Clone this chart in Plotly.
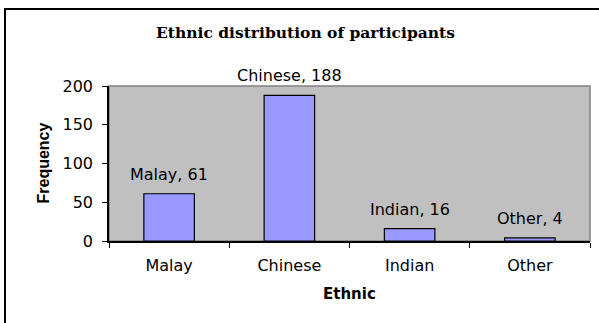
import plotly.graph_objects as go

categories = ["Malay", "Chinese", "Indian", "Other"]
frequency = [61, 188, 16, 4]
y_ticks = [0, 50, 100, 150, 200]

title_text = "Ethnic distribution of participants"
x_title = "Ethnic"
y_title = "Frequency"

W, H = 599, 323
ML, MR, MT, MB = 109, 9, 86, 82
PW = W - ML - MR
PH = H - MT - MB

def px_to_paper_x(px):
    return (px - ML) / PW

def px_to_paper_y(py):
    return (H - MB - py) / PH

fig = go.Figure()
fig.add_trace(go.Bar(
    x=categories,
    y=frequency,
    marker=dict(color="#9999FF", line=dict(color="black", width=1.2)),
    width=0.42,
    hoverinfo="x+y",
))

sans = "DejaVu Sans"
annotations = []
for c, v in zip(categories, frequency):
    annotations.append(dict(
        x=c, y=v, xref="x", yref="y", text=f"{c}, {v}",
        showarrow=False, yanchor="bottom", yshift=8,
        font=dict(family=sans, size=16, color="black"),
    ))

annotations.append(dict(
    x=px_to_paper_x(305), y=px_to_paper_y(32), xref="paper", yref="paper",
    text=f"<b>{title_text}</b>", showarrow=False, xanchor="center", yanchor="middle",
    font=dict(family="DejaVu Serif", size=15.5, color="black"),
))
annotations.append(dict(
    x=px_to_paper_x(43), y=0.5, xref="paper", yref="paper",
    text=f"<b>{y_title}</b>", showarrow=False, textangle=-90,
    xanchor="center", yanchor="middle",
    font=dict(family="Liberation Sans", size=16, color="black"),
))
annotations.append(dict(
    x=px_to_paper_x(349), y=px_to_paper_y(294), xref="paper", yref="paper",
    text=f"<b>{x_title}</b>", showarrow=False, xanchor="center", yanchor="middle",
    font=dict(family=sans, size=15, color="black"),
))

shapes = [
    dict(type="rect", xref="paper", yref="paper", x0=0, x1=1, y0=0, y1=1,
         line=dict(color="#808080", width=1.5), layer="below"),
    dict(type="rect", xref="paper", yref="paper",
         x0=px_to_paper_x(5), x1=px_to_paper_x(640),
         y0=px_to_paper_y(360), y1=px_to_paper_y(9),
         line=dict(color="black", width=2)),
]

fig.update_layout(
    width=W, height=H,
    margin=dict(l=ML, r=MR, t=MT, b=MB),
    paper_bgcolor="white",
    plot_bgcolor="#C0C0C0",
    showlegend=False,
    annotations=annotations,
    shapes=shapes,
    bargap=0.58,
    xaxis=dict(
        type="category",
        tickson="boundaries",
        ticks="outside", ticklen=5, tickcolor="black", tickwidth=1.2,
        ticklabelstandoff=9,
        showline=True, linecolor="black", linewidth=1.5,
        showgrid=False, zeroline=False,
        tickfont=dict(family=sans, size=16, color="black"),
    ),
    yaxis=dict(
        range=[0, 200],
        tickvals=y_ticks,
        ticks="outside", ticklen=5, tickcolor="black", tickwidth=1.2,
        ticklabelstandoff=6,
        showline=True, linecolor="black", linewidth=1.5,
        showgrid=False, zeroline=False,
        tickfont=dict(family=sans, size=16, color="black"),
    ),
)

fig.write_html("out.html")
